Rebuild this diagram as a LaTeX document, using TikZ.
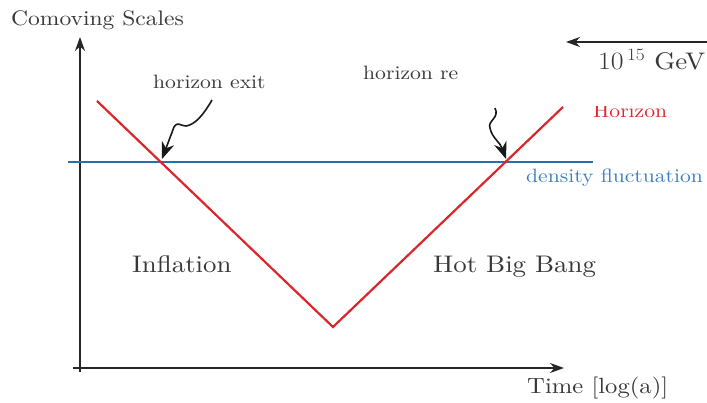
\documentclass[tikz,border=0pt]{standalone}
\usepackage{fontspec}
\setmainfont{lmroman10-regular.otf}
\usetikzlibrary{arrows.meta}
\definecolor{hred}{RGB}{218,38,44}
\definecolor{fblue}{RGB}{38,112,176}
\definecolor{fbluetxt}{RGB}{62,128,188}
\tikzset{
  lbl/.style={inner sep=0pt, text=black!78, xscale=1.12, transform shape, font=\fontsize{19.3}{23}\selectfont},
  biglbl/.style={lbl, font=\fontsize{24}{29}\selectfont},
  axisline/.style={line width=1.8pt, black!85, -{Stealth[length=14pt,width=10pt]}},
  squiggle/.style={line width=1.6pt, black!90, -{Stealth[length=17pt,width=13pt]}}
}
\begin{document}
\begin{tikzpicture}[x=1pt, y=-1pt]
    \useasboundingbox (0,0) rectangle (707,403);

    % Axes
    \coordinate (ybot) at (80,372);
    \coordinate (ytop) at (80,37);
    \coordinate (xleft) at (73,368);
    \coordinate (xright) at (564,368);
    \draw[axisline] (ybot) -- (ytop);
    \draw[axisline] (xleft) -- (xright);
    \node[lbl, font=\fontsize{21}{25}\selectfont, anchor=base west] (yname) at (11,26) {Comoving Scales};
    \node[lbl, font=\fontsize{22}{26}\selectfont, anchor=base west] (xname) at (527,393) {Time [log(a)]};

    % Horizon and density fluctuation
    \coordinate (hstart) at (97,101);
    \coordinate (hmin) at (333,327);
    \coordinate (hend) at (563,107);
    \coordinate (fstart) at (68,162);
    \coordinate (fend) at (593,162);
    \draw[fblue, line width=2pt] (fstart) -- (fend);
    \draw[hred, line width=2.2pt, line join=miter] (hstart) -- (hmin) -- (hend);
    \node[lbl, text=fbluetxt, anchor=base west] (fluct) at (526,183) {density fluctuation};
    \begin{scope}
      \clip (457,107) rectangle (707,403);
      \node[lbl, text=hred, anchor=base west] (hlabel) at (593,118) {Horizon};
    \end{scope}

    % Exit and re-entry
    \coordinate (exitpt) at (161,162);
    \coordinate (reentpt) at (506,162);
    \node[lbl, anchor=base west] (exitlbl) at (153,89) {horizon exit};
    \node[lbl, anchor=base west] (reentlbl) at (363,80) {horizon re};
    \draw[squiggle] (212,100) .. controls (204,114) and (195,125) .. (186,126)
         .. controls (180,126) and (178,121) .. (174,127) -- ([shift={(1,-3)}]exitpt);
    \draw[squiggle] (495,108) .. controls (500,118) and (487,121) .. (490,128)
         .. controls (492,138) and (500,142) .. ([shift={(0,-3)}]reentpt);

    % Eras
    \node[biglbl, anchor=base west] (infl) at (132,273) {Inflation};
    \node[biglbl, anchor=base west] (hbb) at (433,273) {Hot Big Bang};

    % Energy scale
    \coordinate (escale) at (707,42);
    \coordinate (etip) at (566,42);
    \draw[axisline] (escale) -- (etip);
    \node[biglbl, anchor=base west] (gev) at (598,70) {$10^{\,15}$ GeV};
\end{tikzpicture}
\end{document}
